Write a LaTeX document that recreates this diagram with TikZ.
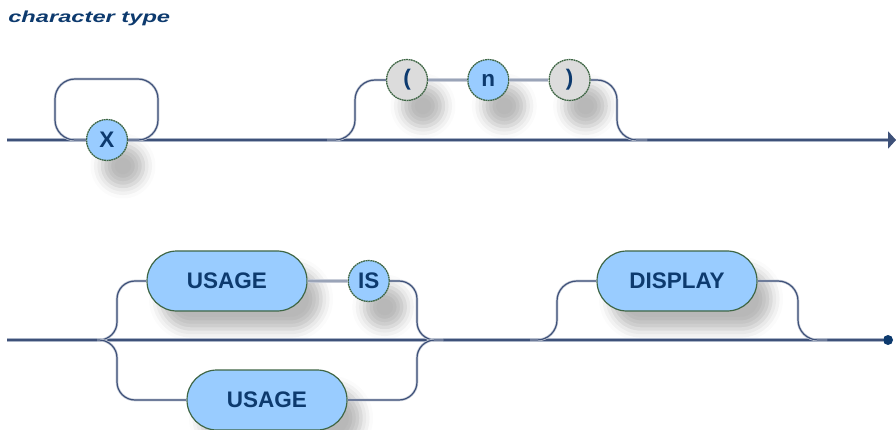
\documentclass[tikz,border=0pt]{standalone}
\usepackage{fontspec}
\setmainfont{Liberation Sans}
\usepackage{xcolor}
\usepackage{tikz}
\usetikzlibrary{positioning}
\usetikzlibrary{shapes.misc}
\usetikzlibrary{shadows.blur}
\usetikzlibrary{arrows.meta}

\definecolor{navy}{HTML}{0D3A6E}
\definecolor{boxblue}{HTML}{99CCFF}
\definecolor{boxgrey}{HTML}{DCDCDC}
\definecolor{rimgreen}{HTML}{3F6645}
\definecolor{linecore}{HTML}{3E5179}
\definecolor{linehalo}{HTML}{A9B3C6}
\definecolor{seqcore}{HTML}{9AA4B8}
\definecolor{seqhalo}{HTML}{C9CED9}

\begin{document}
\begin{tikzpicture}[
    x = 1pt,
    y = -1pt,
    font = \fontsize{22.5}{25}\selectfont\bfseries,
    termc/.style = {
      circle,
      draw=rimgreen,
      fill=boxblue,
      text=navy,
      line width=1.3pt,
      dash pattern=on 1.8pt off 0.6pt,
      minimum size=41pt,
      inner sep=0pt,
      blur shadow={shadow xshift=16pt, shadow yshift=-26pt,
        shadow blur radius=12pt, shadow opacity=28}
    },
    greyc/.style = {
      termc,
      fill=boxgrey
    },
    termp/.style = {
      rounded rectangle,
      draw=rimgreen,
      fill=boxblue,
      text=navy,
      line width=1.2pt,
      minimum width=160pt,
      minimum height=60pt,
      inner sep=0pt,
      blur shadow={shadow xshift=14pt, shadow yshift=-18pt,
        shadow blur radius=12pt, shadow opacity=28}
    },
    mainline/.style = {
      draw=linecore,
      line width=1.8pt,
      preaction={draw=linehalo, line width=4pt}
    },
    branch/.style = {
      draw=linecore,
      line width=1.2pt,
      preaction={draw=seqhalo, line width=2.6pt}
    },
    seqline/.style = {
      draw=seqcore,
      line width=2pt,
      preaction={draw=seqhalo, line width=3.6pt}
    },
    enddot/.style = {
      circle,
      fill=navy,
      minimum size=10pt,
      inner sep=0pt
    }
  ]
    \useasboundingbox (0,0) rectangle (896,430);

    \node[anchor=base west, inner sep=0pt, text=navy, xscale=1.48,
      font=\fontsize{16}{18}\selectfont\bfseries\itshape] (title) at (8,23) {character type};

    % first line
    \node[termc] (x) at (107,140) {X};
    \node[greyc] (lpar) at (407,80) {(};
    \node[termc] (n) [right=39pt of lpar] {n};
    \node[greyc] (rpar) [right=39pt of n] {)};

    \coordinate (s1) at (7,140);
    \coordinate (e1) at (896,140);
    \coordinate (o1) at (327,140);
    \coordinate (o2) at (647,140);

    \draw[mainline] (s1) -- (x);
    \draw[mainline, -{Triangle[length=8pt,width=17pt]}] (x) -- (e1);
    \draw[branch, rounded corners=20pt] (x.east) -- (158,140) -- (158,79) -- (55,79) -- (55,140) -- (x.west);
    \draw[branch, rounded corners=20pt] (o1) -- (355,140) -- (355,80) -- (lpar);
    \draw[seqline] (lpar) -- (n);
    \draw[seqline] (n) -- (rpar);
    \draw[branch, rounded corners=20pt] (rpar) -- (617,80) -- (617,140) -- (o2);

    % second line
    \node[termp] (usage1) at (227,281) {USAGE};
    \node[termc] (is) [right=40pt of usage1] {IS};
    \node[termp] (usage2) at (267,400) {USAGE};
    \node[termp] (display) at (677,281) {DISPLAY};
    \node[enddot] (e2) at (888,340) {};

    \coordinate (s2) at (7,340);
    \coordinate (fork) at (97,340);
    \coordinate (join) at (443,340);
    \coordinate (d1) at (530,340);
    \coordinate (d2) at (827,340);

    \draw[mainline] (s2) -- (e2);
    \draw[branch, rounded corners=18pt] (fork) -- (117,340) -- (117,281) -- (usage1);
    \draw[branch, rounded corners=18pt] (fork) -- (117,340) -- (117,400) -- (usage2);
    \draw[seqline] (usage1) -- (is);
    \draw[branch, rounded corners=18pt] (is) -- (417,281) -- (417,340) -- (join);
    \draw[branch, rounded corners=18pt] (usage2) -- (417,400) -- (417,340) -- (join);
    \draw[branch, rounded corners=20pt] (d1) -- (557,340) -- (557,281) -- (display);
    \draw[branch, rounded corners=20pt] (display) -- (798,281) -- (798,340) -- (d2);

  \end{tikzpicture}
\end{document}
